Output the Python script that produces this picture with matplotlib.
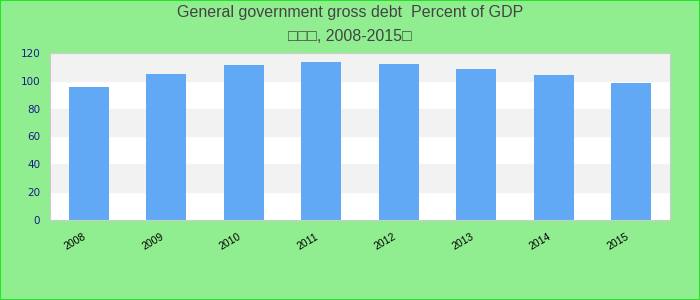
import matplotlib
matplotlib.use("Agg")
import matplotlib.pyplot as plt
import matplotlib.transforms as mtransforms
from matplotlib.patches import Rectangle

years = ["2008", "2009", "2010", "2011", "2012", "2013", "2014", "2015"]
debt = [95.6, 105.0, 111.5, 113.6, 112.2, 108.6, 104.3, 98.5]
yticks = [0, 20, 40, 60, 80, 100, 120]

plt.rcParams["font.family"] = ["Liberation Sans", "DejaVu Sans"]

fig = plt.figure(figsize=(7, 3), dpi=100, facecolor="#90ee90")
fig.patches.append(Rectangle((0, 0), 1, 1, transform=fig.transFigure, fill=False,
                             edgecolor="#22e622", linewidth=1.5))
ax = fig.add_axes([0.0714, 0.2667, 0.8857, 0.5567])
ax.set_facecolor("white")

# alternating bands
for i in range(len(yticks) - 1):
    if i % 2 == 1:
        ax.axhspan(yticks[i], yticks[i + 1], color="#f2f2f2", zorder=0)

x = list(range(len(years)))
ax.bar(x, debt, width=0.52, color="#61a9f5", zorder=2)

ax.set_xlim(-0.5, len(years) - 0.5)
ax.set_ylim(0, 120)
ax.set_yticks(yticks)
ax.set_xticks(x)
ax.set_xticklabels(years, rotation=30, fontsize=7.5, color="black",
                   ha="right", rotation_mode="anchor")
ax.tick_params(axis="y", labelsize=7.5, colors="#1a1a8a", length=0, pad=7)
ax.tick_params(axis="x", length=0, pad=10)
shift = mtransforms.ScaledTranslation(-6 / 100, 2 / 100, fig.dpi_scale_trans)
for lbl in ax.get_xticklabels():
    lbl.set_transform(lbl.get_transform() + shift)
for lbl in ax.get_yticklabels():
    lbl.set_family("DejaVu Sans")
for s in ax.spines.values():
    s.set_color("#cccccc")

fig.text(0.5, 0.958, "General government gross debt  Percent of GDP",
         ha="center", va="center", fontsize=11.5, color="#444444")
fig.text(0.5, 0.878, "\u25a1\u25a1\u25a1, 2008-2015\u25a1",
         ha="center", va="center", fontsize=11.5, color="#444444",
         family=["Liberation Sans", "DejaVu Sans"])

fig.savefig("out.png", dpi=100, facecolor=fig.get_facecolor())
